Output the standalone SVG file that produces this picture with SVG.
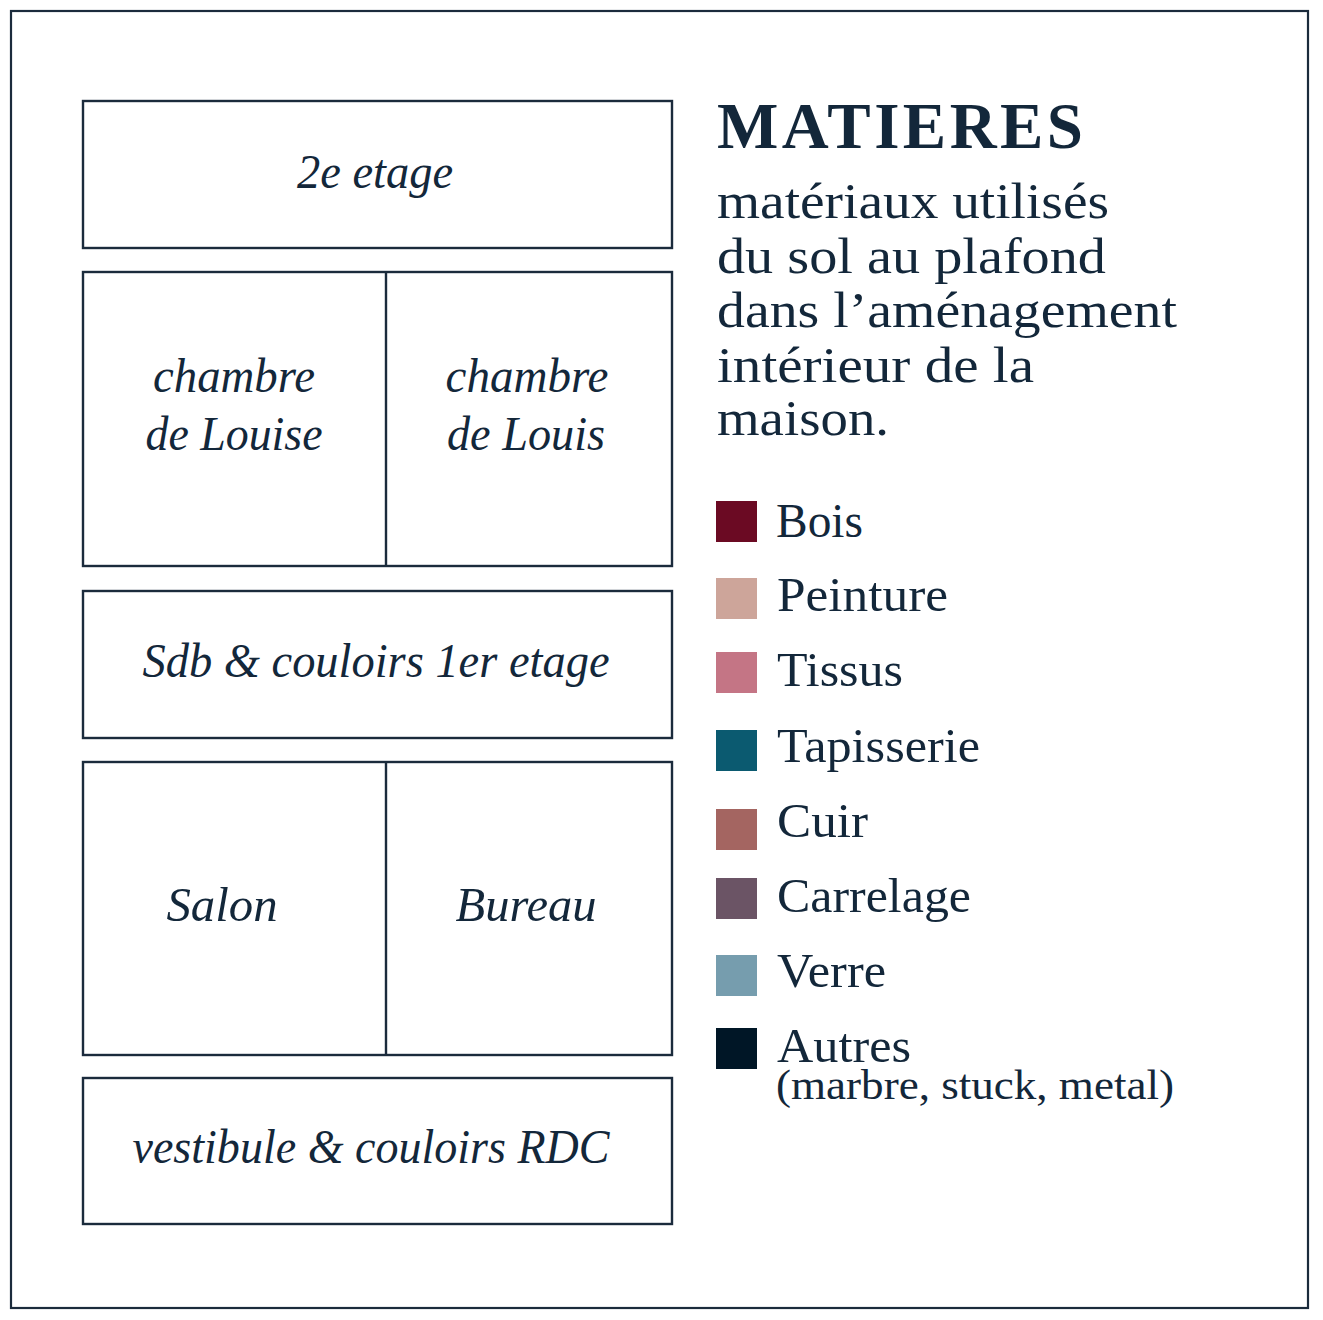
<svg xmlns="http://www.w3.org/2000/svg" width="1323" height="1320" viewBox="0 0 1323 1320">
<style>
.frame{fill:none;stroke:#1b2b3c;stroke-width:2.2}
.box{fill:#ffffff;stroke:#1b2b3c;stroke-width:2.4}
.wall{stroke:#1b2b3c;stroke-width:2.4}
.room{font-family:"Liberation Serif","DejaVu Serif",serif;font-style:italic;font-size:48px;fill:#13273a;text-anchor:middle}
.title{font-family:"Liberation Serif","DejaVu Serif",serif;font-weight:bold;font-size:65px;fill:#13273a}
.sub{font-family:"Liberation Serif","DejaVu Serif",serif;font-size:50px;fill:#13273a}
.leg{font-family:"Liberation Serif","DejaVu Serif",serif;font-size:48px;fill:#13273a}
.legs{font-family:"Liberation Serif","DejaVu Serif",serif;font-size:42px;fill:#13273a}
</style>
<rect x="0" y="0" width="1323" height="1320" fill="#ffffff"/>
<rect class="frame" x="11" y="11" width="1297" height="1297"/>

<g id="etage2">
<rect class="box" x="83" y="101" width="589" height="147"/>
<text class="room" x="375" y="188" textLength="156" lengthAdjust="spacingAndGlyphs">2e etage</text>
</g>
<g id="etage1-chambres">
<rect class="box" x="83" y="272" width="589" height="294"/>
<line class="wall" x1="386" y1="272" x2="386" y2="566"/>
</g>
<g id="chambre-louise">
<text class="room" x="234" y="392" textLength="162" lengthAdjust="spacingAndGlyphs">chambre</text>
<text class="room" x="234" y="450" textLength="177" lengthAdjust="spacingAndGlyphs">de Louise</text>
</g>
<g id="chambre-louis">
<text class="room" x="527" y="392" textLength="163" lengthAdjust="spacingAndGlyphs">chambre</text>
<text class="room" x="526" y="450" textLength="158" lengthAdjust="spacingAndGlyphs">de Louis</text>
</g>
<g id="sdb-couloirs">
<rect class="box" x="83" y="591" width="589" height="147"/>
<text class="room" x="376" y="677" textLength="467" lengthAdjust="spacingAndGlyphs">Sdb &amp; couloirs 1er etage</text>
</g>
<g id="rdc-pieces">
<rect class="box" x="83" y="762" width="589" height="293"/>
<line class="wall" x1="386" y1="762" x2="386" y2="1055"/>
</g>
<g id="salon">
<text class="room" x="222" y="921" textLength="111" lengthAdjust="spacingAndGlyphs">Salon</text>
</g>
<g id="bureau">
<text class="room" x="526" y="921" textLength="141" lengthAdjust="spacingAndGlyphs">Bureau</text>
</g>
<g id="vestibule">
<rect class="box" x="83" y="1078" width="589" height="146"/>
<text class="room" x="371" y="1163" textLength="477" lengthAdjust="spacingAndGlyphs">vestibule &amp; couloirs RDC</text>
</g>

<g id="titre">
<text class="title" x="717" y="148" textLength="366" lengthAdjust="spacing">MATIERES</text>
<text class="sub" x="717" y="218" textLength="392" lengthAdjust="spacingAndGlyphs">matériaux utilisés</text>
<text class="sub" x="717" y="273" textLength="389" lengthAdjust="spacingAndGlyphs">du sol au plafond</text>
<text class="sub" x="717" y="327" textLength="460" lengthAdjust="spacingAndGlyphs">dans l’aménagement</text>
<text class="sub" x="717" y="382" textLength="317" lengthAdjust="spacingAndGlyphs">intérieur de la</text>
<text class="sub" x="717" y="435" textLength="172" lengthAdjust="spacingAndGlyphs">maison.</text>
</g>

<g id="legende">
<g id="leg-bois"><rect x="716" y="501" width="41" height="41" fill="#6b0a23"/><text class="leg" x="776" y="537" textLength="87" lengthAdjust="spacingAndGlyphs">Bois</text></g>
<g id="leg-peinture"><rect x="716" y="578" width="41" height="41" fill="#cda59a"/><text class="leg" x="777" y="611" textLength="171" lengthAdjust="spacingAndGlyphs">Peinture</text></g>
<g id="leg-tissus"><rect x="716" y="652" width="41" height="41" fill="#c47585"/><text class="leg" x="777" y="686" textLength="126" lengthAdjust="spacingAndGlyphs">Tissus</text></g>
<g id="leg-tapisserie"><rect x="716" y="730" width="41" height="41" fill="#0b5a70"/><text class="leg" x="777" y="762" textLength="203" lengthAdjust="spacingAndGlyphs">Tapisserie</text></g>
<g id="leg-cuir"><rect x="716" y="809" width="41" height="41" fill="#a46561"/><text class="leg" x="777" y="837" textLength="91" lengthAdjust="spacingAndGlyphs">Cuir</text></g>
<g id="leg-carrelage"><rect x="716" y="878" width="41" height="41" fill="#6b5465"/><text class="leg" x="777" y="912" textLength="194" lengthAdjust="spacingAndGlyphs">Carrelage</text></g>
<g id="leg-verre"><rect x="716" y="955" width="41" height="41" fill="#769dae"/><text class="leg" x="777" y="987" textLength="109" lengthAdjust="spacingAndGlyphs">Verre</text></g>
<g id="leg-autres"><rect x="716" y="1028" width="41" height="41" fill="#001626"/><text class="leg" x="777" y="1062" textLength="134" lengthAdjust="spacingAndGlyphs">Autres</text>
<text class="legs" x="776" y="1099" textLength="398" lengthAdjust="spacingAndGlyphs">(marbre, stuck, metal)</text></g>
</g>
</svg>
